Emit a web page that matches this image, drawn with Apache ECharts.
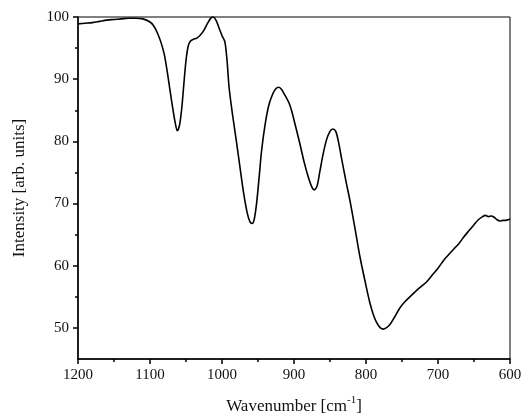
<!DOCTYPE html>
<html>
<head>
<meta charset="utf-8">
<script src="https://cdn.jsdelivr.net/npm/echarts@6/dist/echarts.min.js"></script>
<style>html,body{margin:0;padding:0;background:#fff}#c{width:521px;height:414px}</style>
</head>
<body>
<div id="c"></div>
<script>
const wavenumber = [1200,1190,1180,1170,1160,1150,1140,1130,1120,1110,1100,1095,1090,1085,1080,1075,1070,1065,1062,1059,1056,1053,1050,1047,1044,1040,1035,1030,1025,1020,1015,1012,1008,1004,1000,996,993,990,985,980,975,970,965,961,958,955,952,949,945,940,935,930,925,921,917,912,907,903,898,892,886,880,875,872,868,864,860,855,850,846,842,838,834,828,822,815,808,800,795,790,785,780,776,772,767,760,753,746,738,730,722,715,708,700,692,685,678,672,665,658,650,644,638,634,630,626,622,618,614,610,606,602,600];
const intensity = [98.9,99.0,99.1,99.3,99.5,99.6,99.7,99.8,99.8,99.7,99.2,98.6,97.5,96.0,93.9,90.4,86.5,83.0,81.7,82.6,85.2,89.2,93.0,95.3,96.1,96.4,96.6,97.1,97.9,99.0,99.9,100.0,99.4,98.2,97.0,96.0,93.0,88.5,84.0,80.0,75.8,71.7,68.5,67.0,66.8,67.6,70.0,73.5,78.5,82.8,85.8,87.5,88.5,88.7,88.3,87.3,86.2,84.8,82.5,79.7,76.7,74.2,72.6,72.2,72.8,75.2,77.7,80.2,81.6,82.0,81.6,79.8,77.3,73.7,70.3,65.8,61.2,56.8,54.2,52.2,50.8,50.0,49.8,50.0,50.5,51.8,53.2,54.2,55.1,56.0,56.8,57.5,58.5,59.6,60.9,61.8,62.7,63.4,64.5,65.5,66.6,67.4,67.9,68.1,67.9,68.0,67.8,67.4,67.2,67.3,67.3,67.4,67.5];
const yMajorTicks = [50,60,70,80,90,100];
const yMinorTicks = [55,65,75,85,95];
const xTitle = 'Wavenumber [cm';
const xTitleSup = '-1';
const yTitle = 'Intensity [arb. units]';

const font = 'Liberation Serif';
const chart = echarts.init(document.getElementById('c'));
chart.setOption({
  animation: false,
  grid: {left: 78, right: 11, top: 17, bottom: 55, containLabel: false, outerBoundsMode: 'none', show: true, borderColor: '#000', borderWidth: 1, backgroundColor: 'transparent'},
  xAxis: {
    type: 'value', min: 600, max: 1200, interval: 100, inverse: true,
    axisLine: {show: true, onZero: false, lineStyle: {color: '#000', width: 1.5}},
    axisTick: {show: true, inside: false, length: 5, lineStyle: {color: '#000', width: 1.5}},
    minorTick: {show: true, splitNumber: 2, length: 3, lineStyle: {color: '#000', width: 1.5}},
    splitLine: {show: false},
    axisLabel: {fontFamily: font, fontSize: 15, color: '#111', margin: 9, formatter: v => String(v)},
    name: '{a|' + xTitle + '}{s|' + xTitleSup + '}{a|]}',
    nameLocation: 'middle', nameGap: 36,
    nameTextStyle: {rich: {
      a: {fontFamily: font, fontSize: 17, color: '#111', verticalAlign: 'bottom', lineHeight: 20},
      s: {fontFamily: font, fontSize: 11, color: '#111', verticalAlign: 'top', lineHeight: 20, padding: [0,0,9,0]}
    }}
  },
  yAxis: [{
    type: 'value', min: 45, max: 100,
    axisLine: {show: true, onZero: false, lineStyle: {color: '#000', width: 1.5}},
    axisTick: {show: true, inside: false, length: 5, customValues: yMajorTicks, lineStyle: {color: '#000', width: 1.5}},
    axisLabel: {fontFamily: font, fontSize: 15, color: '#111', margin: 9, customValues: yMajorTicks},
    splitLine: {show: false},
    name: yTitle, nameLocation: 'middle', nameGap: 50, nameRotate: 90,
    nameTextStyle: {fontFamily: font, fontSize: 17, color: '#111'}
  }, {
    type: 'value', min: 45, max: 100, position: 'left',
    axisLine: {show: false},
    axisTick: {show: true, inside: false, length: 3, customValues: yMinorTicks, lineStyle: {color: '#000', width: 1.5}},
    axisLabel: {show: false},
    splitLine: {show: false}
  }],
  series: [{
    type: 'line', yAxisIndex: 0, smooth: 0.3, showSymbol: false,
    lineStyle: {color: '#000', width: 1.6},
    data: wavenumber.map((w, i) => [w, intensity[i]])
  }]
});
</script>
</body>
</html>
